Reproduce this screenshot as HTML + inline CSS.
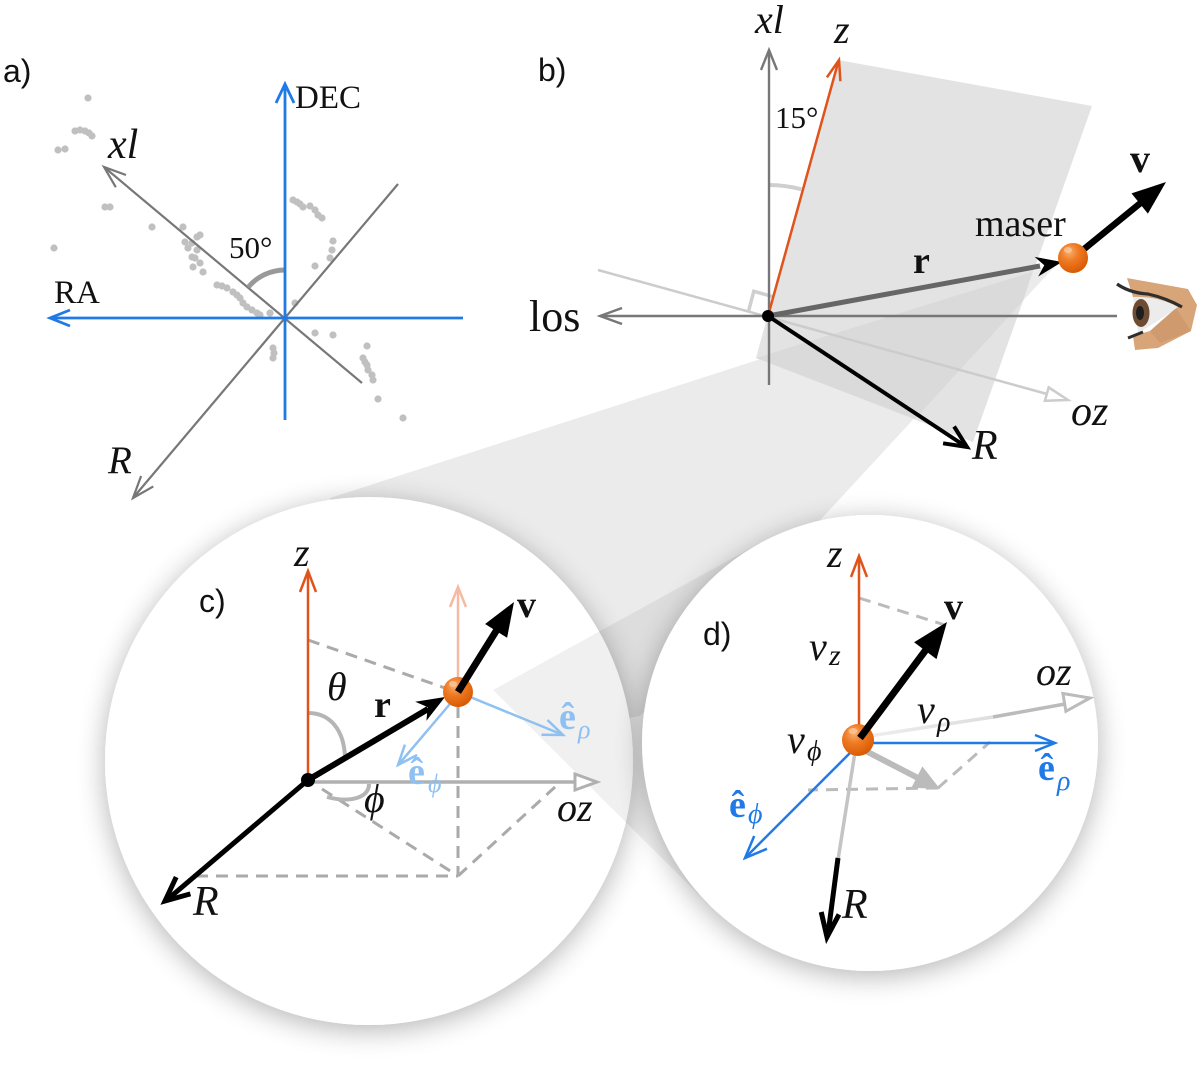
<!DOCTYPE html>
<html>
<head>
<meta charset="utf-8">
<style>
html,body{margin:0;padding:0;background:#fff;}
svg{display:block;}
.s{font-family:"Liberation Serif","DejaVu Serif",serif;fill:#111;}
.i{font-style:italic;}
.b{font-weight:bold;}
.sans{font-family:"Liberation Sans","DejaVu Sans",sans-serif;fill:#111;}
</style>
</head>
<body>
<svg width="1200" height="1071" viewBox="0 0 1200 1071" xmlns="http://www.w3.org/2000/svg">
<defs>
  <filter id="sh" x="-20%" y="-20%" width="140%" height="140%">
    <feGaussianBlur in="SourceAlpha" stdDeviation="14"/>
    <feOffset dy="5"/>
    <feComponentTransfer><feFuncA type="linear" slope="0.3"/></feComponentTransfer>
    <feMerge><feMergeNode/><feMergeNode in="SourceGraphic"/></feMerge>
  </filter>
  <radialGradient id="mz" cx="0.38" cy="0.3" r="0.75">
    <stop offset="0" stop-color="#f7ae70"/>
    <stop offset="0.4" stop-color="#ef7b24"/>
    <stop offset="1" stop-color="#d65700"/>
  </radialGradient>
  <linearGradient id="ozg" x1="863" y1="737" x2="1000" y2="716" gradientUnits="userSpaceOnUse">
    <stop offset="0" stop-color="#eeeeee"/>
    <stop offset="1" stop-color="#dddddd"/>
  </linearGradient>
</defs>

<!-- cone from b maser to circle c -->
<polygon points="1058,263 330,498 368,761 640,716 823,517" fill="#ebebeb"/>
<!-- plane in b -->
<polygon points="838,60 1092,106 973,442 756,358" fill="#e3e3e3"/>
<!-- overlap of plane and cone -->
<polygon points="756,358 1032,272 1023,301 915,419" fill="#dadada"/>

<!-- circle c -->
<circle cx="369" cy="761" r="264" fill="#fff" filter="url(#sh)"/>
<!-- cone from c maser to circle d -->
<polygon points="493,690 760,543 870,743 709,905" fill="#000" fill-opacity="0.06"/>
<!-- circle d -->
<circle cx="870" cy="743" r="228" fill="#fff" filter="url(#sh)"/>

<!-- ================= PANEL A ================= -->
<text class="sans" x="3" y="82" font-size="32">a)</text>
<g fill="#c0c0c0">
<circle cx="88" cy="98" r="3.6"/>
<circle cx="75" cy="131" r="3.6"/><circle cx="80" cy="130" r="3.6"/><circle cx="85" cy="131" r="3.6"/><circle cx="89" cy="133" r="3.6"/><circle cx="92" cy="136" r="3.6"/>
<circle cx="58" cy="150" r="3.6"/><circle cx="65" cy="149" r="3.6"/>
<circle cx="105" cy="207" r="3.6"/><circle cx="110" cy="207" r="3.6"/>
<circle cx="152" cy="227" r="3.6"/>
<circle cx="54" cy="248" r="3.6"/>
<circle cx="183" cy="227" r="3.6"/><circle cx="185" cy="242" r="3.6"/><circle cx="192" cy="243" r="3.6"/><circle cx="197" cy="237" r="3.6"/><circle cx="200" cy="235" r="3.6"/><circle cx="197" cy="250" r="3.6"/><circle cx="200" cy="263" r="3.6"/><circle cx="203" cy="272" r="3.6"/><circle cx="192" cy="257" r="3.6"/><circle cx="193" cy="267" r="3.6"/><circle cx="188" cy="248" r="3.6"/><circle cx="195" cy="258" r="3.6"/>
<circle cx="217" cy="285" r="3.6"/><circle cx="222" cy="286" r="3.6"/><circle cx="227" cy="288" r="3.6"/><circle cx="233" cy="292" r="3.6"/><circle cx="237" cy="295" r="3.6"/><circle cx="240" cy="298" r="3.6"/><circle cx="243" cy="303" r="3.6"/><circle cx="247" cy="307" r="3.6"/><circle cx="252" cy="310" r="3.6"/><circle cx="257" cy="313" r="3.6"/><circle cx="260" cy="315" r="3.6"/><circle cx="270" cy="313" r="3.6"/>
<circle cx="293" cy="200" r="3.6"/><circle cx="297" cy="202" r="3.6"/><circle cx="300" cy="204" r="3.6"/><circle cx="303" cy="207" r="3.6"/><circle cx="310" cy="206" r="3.6"/><circle cx="315" cy="210" r="3.6"/><circle cx="318" cy="215" r="3.6"/><circle cx="322" cy="218" r="3.6"/>
<circle cx="333" cy="241" r="3.6"/><circle cx="332" cy="250" r="3.6"/><circle cx="330" cy="258" r="3.6"/>
<circle cx="315" cy="266" r="3.6"/>
<circle cx="295" cy="303" r="3.6"/>
<circle cx="315" cy="333" r="3.6"/>
<circle cx="333" cy="335" r="3.6"/>
<circle cx="273" cy="348" r="3.6"/><circle cx="274" cy="353" r="3.6"/><circle cx="273" cy="358" r="3.6"/>
<circle cx="367" cy="346" r="3.6"/>
<circle cx="363" cy="358" r="3.6"/><circle cx="365" cy="362" r="3.6"/><circle cx="367" cy="365" r="3.6"/><circle cx="368" cy="370" r="3.6"/><circle cx="372" cy="375" r="3.6"/><circle cx="373" cy="380" r="3.6"/>
<circle cx="378" cy="399" r="3.6"/>
<circle cx="403" cy="418" r="3.6"/>
</g>
<!-- gray axes -->
<g stroke="#777" stroke-width="2.2" fill="none">
  <line x1="362" y1="383" x2="104" y2="167"/>
  <polyline points="126,175 104,167 115.8,187.2"/>
  <line x1="398" y1="184" x2="133" y2="498"/>
  <polyline points="141.1,476 133,498 153.3,486.4"/>
</g>
<!-- angle arc -->
<path d="M285,270 A48,48 0 0 0 248.2,287.2" stroke="#999" stroke-width="5" fill="none"/>
<!-- blue axes -->
<g stroke="#1f7ae8" stroke-width="2.8" fill="none">
  <line x1="285" y1="420" x2="285" y2="84"/>
  <polyline points="276,103 285,84 294,103"/>
  <line x1="463" y1="318" x2="50" y2="318"/>
  <polyline points="70,310 50,318 70,326"/>
</g>
<text class="s" x="295" y="108" font-size="33">DEC</text>
<text class="s" x="54" y="303" font-size="33">RA</text>
<text class="s i" x="108" y="158" font-size="42">xl</text>
<text class="s i" x="108" y="473" font-size="39">R</text>
<text class="s" x="229" y="258" font-size="31">50°</text>

<!-- ================= PANEL B ================= -->
<text class="sans" x="538" y="81" font-size="32">b)</text>
<!-- 15 deg arc -->
<path d="M768,185 A131,131 0 0 1 801.4,189.3" stroke="#cfcfcf" stroke-width="4" fill="none"/>
<!-- faint line + oz axis -->
<line x1="598" y1="270" x2="1047" y2="394" stroke="#cccccc" stroke-width="2.5"/>
<polygon points="1068,400 1044.9,400.8 1048.7,387.4" fill="#fff" stroke="#cccccc" stroke-width="2.5" stroke-linejoin="miter"/>
<!-- right angle mark -->
<polyline points="748.7,310.6 753.8,291.3 773.1,296.7" stroke="#cfcfcf" stroke-width="3.5" fill="none"/>
<!-- xl axis -->
<g stroke="#777" stroke-width="2.4" fill="none">
  <line x1="769" y1="385" x2="769" y2="50"/>
  <polyline points="761,70 769,50 777,70"/>
  <line x1="1117" y1="316" x2="600" y2="316"/>
  <polyline points="622,308 600,316 622,324"/>
</g>
<!-- z axis orange -->
<g stroke="#e0531a" stroke-width="2.5" fill="none">
  <line x1="768" y1="316" x2="838.5" y2="61"/>
  <polyline points="826.9,77.4 839,60 840.4,81.2"/>
</g>
<!-- r arrow -->
<line x1="768" y1="316" x2="1040" y2="266" stroke="#666" stroke-width="5"/>
<polygon points="1062,262 1038.2,276.5 1044.3,265.3 1034.6,256.9" fill="#000"/>
<!-- R arrow -->
<g stroke="#000" stroke-width="4" fill="none">
  <line x1="768" y1="316" x2="965" y2="446"/>
  <polyline points="943.1,443.3 967,447 954.1,426.5"/>
</g>
<!-- v arrow -->
<line x1="1078" y1="254" x2="1143" y2="201" stroke="#000" stroke-width="6.5"/>
<polygon points="1166,182 1147.9,213.6 1131.5,193.4" fill="#000"/>
<!-- maser -->
<circle cx="1073" cy="258" r="15" fill="url(#mz)"/>
<ellipse cx="1068" cy="250" rx="4" ry="3" fill="#fbc79a" opacity="0.8"/>
<!-- origin -->
<circle cx="768" cy="316" r="6" fill="#000"/>
<!-- eye -->
<g>
  <polygon points="1127,278 1188,289 1197,305 1191,331 1158,348 1135,350 1133,336 1150,331 1176,308 1150,298 1133,297" fill="#d8a579"/>
  <polygon points="1176,308 1191,331 1160,343 1150,331" fill="#c89268" opacity="0.6"/>
  <path d="M1133,297 Q1158,296 1178,307 Q1160,320 1138,333 Z" fill="#ececec"/>
  <ellipse cx="1141" cy="313" rx="8.5" ry="14" fill="#6e4b33"/>
  <ellipse cx="1140" cy="313" rx="4" ry="7" fill="#1e1e1e"/>
  <path d="M1117,284 Q1130,293 1148,294 Q1166,298 1182,307" stroke="#2e2e2e" stroke-width="3.2" fill="none"/>
  <path d="M1128,338 L1143,332" stroke="#2e2e2e" stroke-width="3" fill="none"/>
</g>
<text class="s i" x="755" y="33" font-size="40">xl</text>
<text class="s i" x="834" y="43" font-size="40">z</text>
<text class="s" x="775" y="128" font-size="31">15°</text>
<text class="s" x="975" y="236" font-size="38">maser</text>
<text class="s b" x="1130" y="172" font-size="40">v</text>
<text class="s b" x="913" y="273" font-size="38">r</text>
<text class="s" x="529" y="331" font-size="44">los</text>
<text class="s i" x="1071" y="425" font-size="42">oz</text>
<text class="s i" x="972" y="459" font-size="42">R</text>

<!-- ================= PANEL C ================= -->
<text class="sans" x="199" y="612" font-size="32">c)</text>
<!-- dashed lines -->
<g stroke="#aaa" stroke-width="3" fill="none" stroke-dasharray="12 8">
  <line x1="308" y1="640" x2="445" y2="688"/>
  <line x1="322" y1="789" x2="458" y2="876"/>
  <line x1="458" y1="706" x2="458" y2="876"/>
  <line x1="458" y1="876" x2="555" y2="787"/>
  <line x1="196" y1="876" x2="458" y2="876"/>
</g>
<!-- oz axis -->
<line x1="308" y1="782" x2="576" y2="782" stroke="#b0b0b0" stroke-width="3.5"/>
<polygon points="597,782 575,774 575,790" fill="#fff" stroke="#b0b0b0" stroke-width="3"/>
<!-- arcs -->
<path d="M308,713 C331,713 344,731 345,757" stroke="#b5b5b5" stroke-width="4" fill="none"/>
<path d="M369,784 C369,798 350,803 327,797" stroke="#b5b5b5" stroke-width="4" fill="none"/>
<!-- z axis -->
<g stroke="#e0531a" stroke-width="2.5" fill="none">
  <line x1="308" y1="780" x2="308" y2="572"/>
  <polyline points="300,592 308,571 316,592"/>
</g>
<!-- faint orange -->
<g stroke="#f6b9a2" stroke-width="2.5" fill="none">
  <line x1="458" y1="680" x2="458" y2="588"/>
  <polyline points="450,607 458,587 466,607"/>
</g>
<!-- light blue e vectors -->
<g stroke="#8ec0f2" stroke-width="2.5" fill="none">
  <line x1="458" y1="692" x2="562" y2="734.5"/>
  <polyline points="541.5,734.8 563,735 547.5,720"/>
  <line x1="455" y1="698" x2="399" y2="764"/>
  <polyline points="404.9,744.6 398,765 417.1,755"/>
</g>
<!-- R arrow -->
<g stroke="#000" stroke-width="5" fill="none">
  <line x1="308" y1="780" x2="168" y2="899"/>
  <polyline points="176.2,877.1 165,901 190.4,893.9"/>
</g>
<!-- r arrow -->
<line x1="308" y1="780" x2="428" y2="709" stroke="#000" stroke-width="6"/>
<polygon points="445,697 426.4,720.7 427.7,707.1 415.2,701.7" fill="#000"/>
<!-- maser -->
<circle cx="458" cy="692" r="15" fill="url(#mz)"/>
<ellipse cx="453" cy="684" rx="4" ry="3" fill="#fbc79a" opacity="0.8"/>
<!-- v arrow -->
<line x1="458" y1="692" x2="498" y2="628" stroke="#000" stroke-width="7"/>
<polygon points="514,602 507.1,637.8 485.1,624" fill="#000"/>
<!-- origin -->
<circle cx="308" cy="780" r="7" fill="#000"/>
<text class="s i" x="294" y="566" font-size="40">z</text>
<text class="s b" x="517" y="617" font-size="38">v</text>
<text class="s b" x="374" y="717" font-size="38">r</text>
<text class="s i" x="327" y="700" font-size="40">θ</text>
<text class="s i" x="364" y="812" font-size="40">ϕ</text>
<text class="s i" x="557" y="821" font-size="40">oz</text>
<text class="s i" x="193" y="915" font-size="42">R</text>
<text x="559" y="729" font-size="38" class="s b" style="fill:#8ec0f2">ê</text>
<text x="578" y="738" font-size="26" class="s i" style="fill:#8ec0f2">ρ</text>
<text x="408" y="784" font-size="38" class="s b" style="fill:#8ec0f2">ê</text>
<text x="428" y="792" font-size="26" class="s i" style="fill:#8ec0f2">ϕ</text>

<!-- ================= PANEL D ================= -->
<text class="sans" x="703" y="645" font-size="32">d)</text>
<!-- dashed -->
<g stroke="#bbb" stroke-width="3" fill="none" stroke-dasharray="12 8">
  <line x1="859" y1="598" x2="945" y2="625"/>
  <line x1="938" y1="788" x2="808" y2="790"/>
  <line x1="938" y1="788" x2="990" y2="742"/>
</g>
<!-- oz -->
<line x1="863" y1="737" x2="993" y2="717" stroke="url(#ozg)" stroke-width="3.5"/>
<line x1="993" y1="717" x2="1065" y2="704" stroke="#bbb" stroke-width="3.5"/>
<polygon points="1090,698 1065.9,711.3 1062.9,693.5" fill="#fff" stroke="#bbb" stroke-width="3"/>
<!-- R -->
<line x1="855" y1="752" x2="838" y2="860" stroke="#c4c4c4" stroke-width="3.5"/>
<g stroke="#000" stroke-width="5" fill="none">
  <line x1="838" y1="858" x2="828" y2="934"/>
  <polyline points="821.2,912 827,937 839,914.4"/>
</g>
<!-- gray projection arrow -->
<line x1="860" y1="748" x2="918" y2="778" stroke="#bbb" stroke-width="6"/>
<polygon points="940,789 911.4,787.8 922.4,766.4" fill="#bbb"/>
<!-- z axis -->
<g stroke="#e0531a" stroke-width="2.5" fill="none">
  <line x1="859" y1="728" x2="859" y2="557"/>
  <polyline points="851,577 859,556 867,577"/>
</g>
<!-- blue e vectors -->
<g stroke="#1f7ae8" stroke-width="2.5" fill="none">
  <line x1="860" y1="743" x2="1054" y2="743"/>
  <polyline points="1035,735 1055,743 1035,751"/>
  <line x1="858" y1="745" x2="746" y2="857"/>
  <polyline points="754.2,836 745,858 767,848.8"/>
</g>
<!-- maser -->
<circle cx="858" cy="740" r="16" fill="url(#mz)"/>
<ellipse cx="853" cy="731" rx="4.5" ry="3" fill="#fbc79a" opacity="0.8"/>
<!-- v arrow -->
<line x1="860" y1="738" x2="928" y2="647" stroke="#000" stroke-width="7"/>
<polygon points="947,622 936.5,659.1 914.1,642.3" fill="#000"/>
<text class="s i" x="827" y="567" font-size="40">z</text>
<text class="s b" x="944" y="619" font-size="38">v</text>
<text class="s i" x="809" y="660" font-size="40">v</text>
<text class="s i" x="829" y="665" font-size="30">z</text>
<text class="s i" x="1036" y="685" font-size="40">oz</text>
<text class="s i" x="917" y="723" font-size="40">v</text>
<text class="s i" x="937" y="731" font-size="28">ρ</text>
<text class="s i" x="787" y="753" font-size="40">v</text>
<text class="s i" x="807" y="760" font-size="28">ϕ</text>
<text x="1038" y="780" font-size="38" class="s b" style="fill:#1f7ae8">ê</text>
<text x="1057" y="790" font-size="28" class="s i" style="fill:#1f7ae8">ρ</text>
<text x="729" y="817" font-size="38" class="s b" style="fill:#1f7ae8">ê</text>
<text x="748" y="823" font-size="28" class="s i" style="fill:#1f7ae8">ϕ</text>
<text class="s i" x="842" y="918" font-size="42">R</text>
</svg>
</body>
</html>
